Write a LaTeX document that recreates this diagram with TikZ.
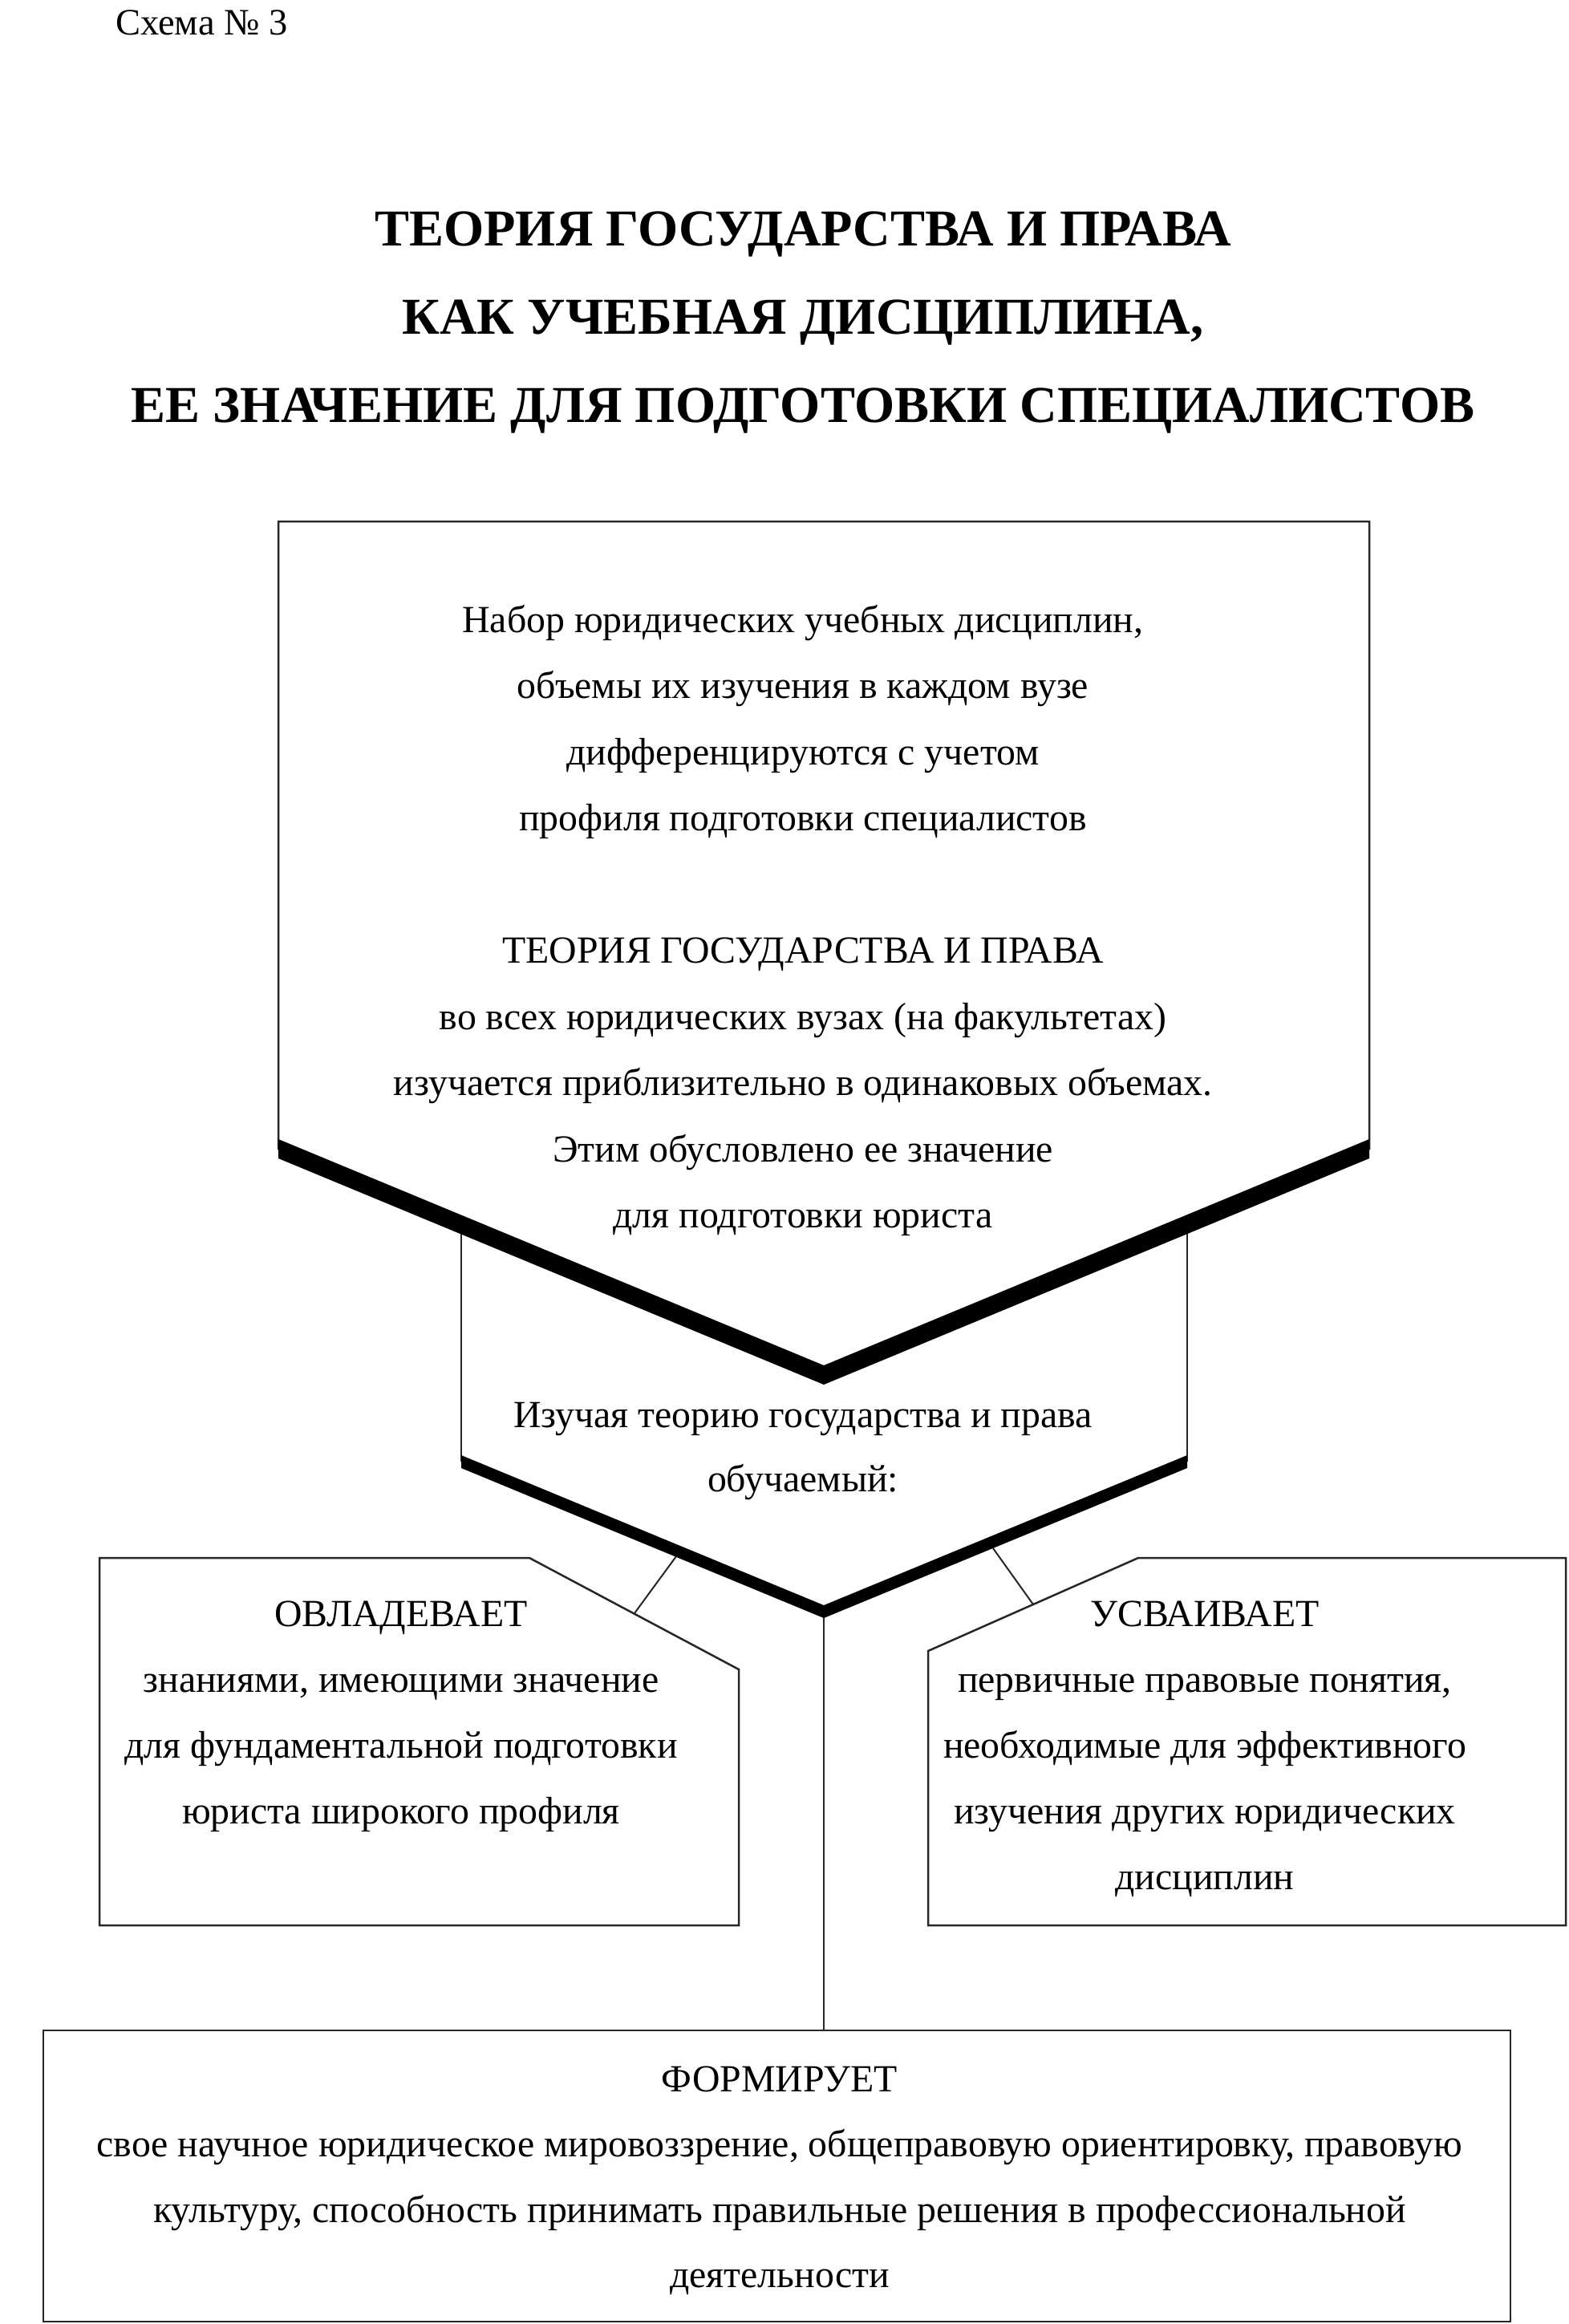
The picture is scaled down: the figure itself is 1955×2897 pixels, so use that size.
\documentclass[tikz,border=0pt]{standalone}
\usepackage{fontspec}
\setmainfont{Liberation Serif}
\newcommand{\linesblk}[1]{\vtop{\halign{\hfil##\hfil\cr#1\crcr}}}
\begin{document}
\begin{tikzpicture}[x=1pt,y=-1pt,
  outline/.style={line width=2.5pt, draw=black!85, line join=miter},
  bandfill/.style={fill=black},
  conn/.style={line width=2pt, draw=black!85},
  body/.style={anchor=base, inner sep=0pt, font=\fontsize{47.8}{82}\selectfont},
  titlefont/.style={anchor=base, inner sep=0pt, font=\fontsize{64.5}{110}\selectfont\bfseries}]
\useasboundingbox (0,0) rectangle (1955,2897);
% key coordinates
\coordinate (tl) at (347,650);
\coordinate (tr) at (1707,650);
\coordinate (apex1) at (1027,1714);
\coordinate (apex2) at (1027,2009);
\coordinate (apex2b) at (1027,2017);
% second pentagon sides (partly hidden)
\draw[outline] (575,1520) -- (575,1822);
\draw[outline] (1480,1520) -- (1480,1822);
% top pentagon
\filldraw[outline, fill=white] (tl) -- (tr) -- (1707,1432) -- (apex1) -- (347,1432) -- cycle;
\fill[bandfill] (347,1420) -- (1027,1702) -- (1707,1420) -- (1707,1444) -- (1027,1726) -- (347,1444) -- cycle;
% second band
\fill[bandfill] (575,1814) -- (1027,2001) -- (1480,1814) -- (1480,1830) -- (1027,2017) -- (575,1830) -- cycle;
% side boxes
\draw[outline] (124,1942) -- (660,1942) -- (921,2081) -- (921,2400) -- (124,2400) -- cycle;
\draw[outline] (1419,1942) -- (1952,1942) -- (1952,2400) -- (1157,2400) -- (1157,2058) -- cycle;
% bottom box
\draw[outline] (54,2531) -- (1883,2531) -- (1883,2894) -- (54,2894) -- cycle;
\coordinate (bottop) at (1027,2531);
% connectors
\coordinate (lcA) at (843,1940);
\coordinate (lcB) at (791,2011);
\coordinate (rcA) at (1238,1930);
\coordinate (rcB) at (1288,2000);
\draw[conn] (apex2b) -- (bottop);
\draw[conn] (lcA) -- (lcB);
\draw[conn] (rcA) -- (rcB);
% texts
\node[body, anchor=base west, font=\fontsize{46.5}{82}\selectfont] (schema) at (144,43) {Схема № 3};
\node[titlefont] (title) at (1001,306) {\linesblk{ТЕОРИЯ ГОСУДАРСТВА И ПРАВА\cr КАК УЧЕБНАЯ ДИСЦИПЛИНА,\cr ЕЕ ЗНАЧЕНИЕ ДЛЯ ПОДГОТОВКИ СПЕЦИАЛИСТОВ}};
\node[body, font=\fontsize{47.8}{82.5}\selectfont] (toptext) at (1001,788) {\linesblk{Набор юридических учебных дисциплин,\cr
объемы их изучения в каждом вузе\cr
дифференцируются с учетом\cr
профиля подготовки специалистов\cr
\cr
ТЕОРИЯ ГОСУДАРСТВА И ПРАВА\cr
во всех юридических вузах (на факультетах)\cr
изучается приблизительно в одинаковых объемах.\cr
Этим обусловлено ее значение\cr
для подготовки юриста}};
\node[body, font=\fontsize{47.8}{80}\selectfont] (midtext) at (1001,1779) {\linesblk{Изучая теорию государства и права\cr обучаемый:}};
\node[body] (lefttext) at (500,2027) {\linesblk{ОВЛАДЕВАЕТ\cr знаниями, имеющими значение\cr для фундаментальной подготовки\cr юриста широкого профиля}};
\node[body] (righttext) at (1502,2027) {\linesblk{УСВАИВАЕТ\cr первичные правовые понятия,\cr необходимые для эффективного\cr изучения других юридических\cr дисциплин}};
\node[body, font=\fontsize{47.8}{81.5}\selectfont] (bottext) at (972,2607) {\linesblk{ФОРМИРУЕТ\cr свое научное юридическое мировоззрение, общеправовую ориентировку, правовую\cr культуру, способность принимать правильные решения в профессиональной\cr деятельности}};
\end{tikzpicture}
\end{document}
